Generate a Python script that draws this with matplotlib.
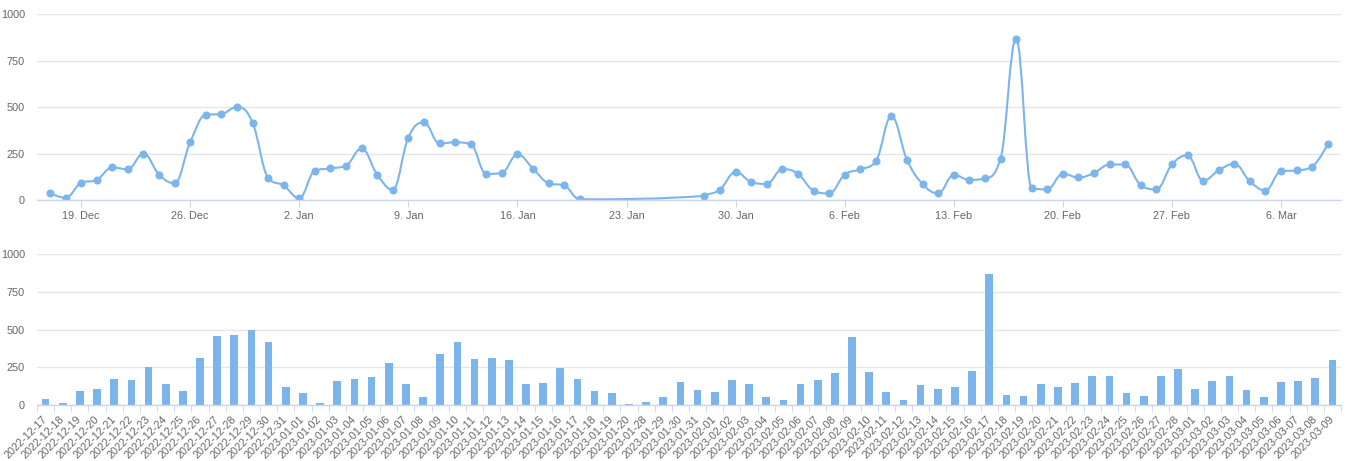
import matplotlib
matplotlib.use("Agg")
import matplotlib.pyplot as plt
import matplotlib.dates as mdates
import matplotlib.ticker as mticker
from matplotlib.path import Path
from matplotlib.patches import PathPatch
import numpy as np
import pandas as pd

plt.rcParams["font.family"] = ["Liberation Sans", "DejaVu Sans"]

# days with data (gap between 2023-01-20 and 2023-01-28)
days = list(pd.date_range("2022-12-17", "2023-01-20")) + list(pd.date_range("2023-01-28", "2023-03-09"))
labels = [d.strftime("%Y-%m-%d") for d in days]

counts = [37, 12, 92, 108, 175, 165, 250, 137, 90, 310,
          458, 462, 500, 416, 120, 78, 10, 157, 170, 185,
          277, 137, 56, 336, 417, 304, 310, 300, 140, 146,
          245, 169, 90, 78, 4,
          22, 56, 151, 97, 86, 166, 141, 51, 35, 136,
          165, 209, 450, 216, 86, 36, 135, 108, 116, 222,
          868, 65, 57, 141, 121, 145, 191, 191, 80, 57,
          191, 240, 104, 159, 195, 101, 51, 155, 159, 180,
          300]

BLUE = "#7cb5ec"
GRID = "#e6e6e6"
AXIS = "#ccd6eb"
TXT = "#666666"
FS = 7.8


def spline_path(xs, ys, smoothing=1.5):
    # highcharts style spline through the points
    n = len(xs)
    lc, rc = [], []
    for i in range(n):
        x, y = xs[i], ys[i]
        if i == 0 or i == n - 1:
            lc.append((x, y))
            rc.append((x, y))
            continue
        px, py = xs[i - 1], ys[i - 1]
        nx, ny = xs[i + 1], ys[i + 1]
        d = smoothing + 1
        lx = (smoothing * x + px) / d
        ly = (smoothing * y + py) / d
        rx = (smoothing * x + nx) / d
        ry = (smoothing * y + ny) / d
        if rx != lx:
            corr = (ry - ly) * (rx - x) / (rx - lx) + y - ry
            ly += corr
            ry += corr
        if ly > py and ly > y:
            ly = max(py, y)
            ry = 2 * y - ly
        elif ly < py and ly < y:
            ly = min(py, y)
            ry = 2 * y - ly
        if ry > ny and ry > y:
            ry = max(ny, y)
            ly = 2 * y - ry
        elif ry < ny and ry < y:
            ry = min(ny, y)
            ly = 2 * y - ry
        lc.append((lx, ly))
        rc.append((rx, ry))
    verts = [(xs[0], ys[0])]
    codes = [Path.MOVETO]
    for i in range(1, n):
        verts += [rc[i - 1], lc[i], (xs[i], ys[i])]
        codes += [Path.CURVE4] * 3
    return Path(verts, codes)


def style(ax):
    for s in ["top", "right", "left"]:
        ax.spines[s].set_visible(False)
    ax.spines["bottom"].set_color(AXIS)
    ax.spines["bottom"].set_linewidth(1)
    ax.set_ylim(0, 1000)
    ax.set_yticks([0, 250, 500, 750, 1000])
    ax.grid(axis="y", color=GRID, linewidth=1)
    ax.set_axisbelow(True)
    ax.tick_params(axis="y", length=0, pad=8.6, labelsize=FS, labelcolor=TXT)


fig = plt.figure(figsize=(13.48, 4.61), dpi=100)

# line chart
ax1 = fig.add_axes([37 / 1348, 1 - 200 / 461, 1304 / 1348, 186 / 461])
style(ax1)
xs = mdates.date2num(days)
ax1.add_patch(PathPatch(spline_path(list(xs), counts), fill=False, edgecolor=BLUE, linewidth=1.5))
ax1.plot(days, counts, "o", color=BLUE, markersize=5.8, markeredgewidth=0)
ax1.set_xlim(xs[0] - 0.83, xs[-1] + 0.85)
ax1.xaxis.set_major_locator(mdates.WeekdayLocator(byweekday=mdates.MO))
ax1.xaxis.set_major_formatter(mticker.FuncFormatter(lambda v, p: f"{mdates.num2date(v).day}. {mdates.num2date(v):%b}"))
ax1.tick_params(axis="x", length=5, color=AXIS, labelsize=FS, labelcolor=TXT, pad=3)

# bar chart
ax2 = fig.add_axes([37 / 1348, 1 - 405 / 461, 1304 / 1348, 151 / 461])
style(ax2)
pos = np.arange(len(labels))
ax2.bar(pos, counts, width=0.45, color=BLUE)
ax2.set_xlim(-0.5, len(labels) - 0.5)
ax2.set_xticks(pos)
ax2.set_xticklabels(labels, rotation=45, ha="right", va="center", rotation_mode="anchor")
ax2.set_xticks(np.arange(-0.5, len(labels), 1), minor=True)
ax2.tick_params(axis="x", which="major", length=0, labelsize=FS, labelcolor=TXT, pad=9)
ax2.tick_params(axis="x", which="minor", length=5, color=AXIS)

fig.savefig("out.png", dpi=100)
